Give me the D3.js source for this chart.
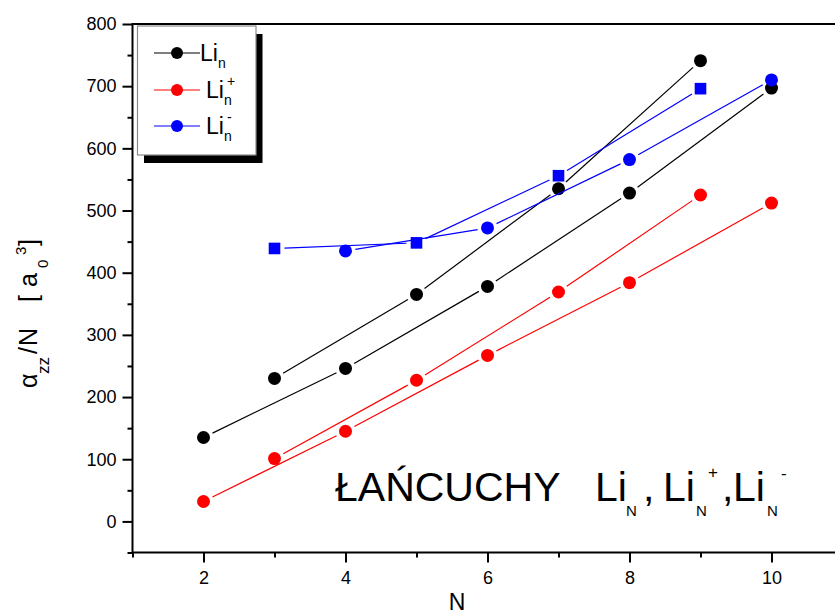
<!DOCTYPE html>
<html>
<head>
<meta charset="utf-8">
<script src="https://cdn.jsdelivr.net/npm/d3@7"></script>
<style>
  html, body { margin: 0; padding: 0; background: #fff; overflow: hidden; }
  svg { display: block; font-family: "Liberation Sans", Arial, sans-serif; }
</style>
</head>
<body>
<svg id="chart" width="835" height="615"></svg>
<script>
// ---- data ----
const nEven = [2, 4, 6, 8, 10];
const nOdd = [3, 5, 7, 9];
const nEvenMinus = [4, 6, 8, 10];
const liEven = [135, 246, 378, 528, 697];
const liOdd = [230, 365, 535, 741];
const liPlusEven = [32, 145, 267, 384, 512];
const liPlusOdd = [101, 227, 369, 525];
const liMinusEven = [435, 472, 582, 710];
const liMinusOdd = [439, 448, 556, 696];
const xMajorTicks = [2, 4, 6, 8, 10];
const xMinorTicks = [1, 3, 5, 7, 9, 11];
const yMajorTicks = [0, 100, 200, 300, 400, 500, 600, 700, 800];
const yMinorTicks = [-50, 50, 150, 250, 350, 450, 550, 650, 750];

const svg = d3.select("#chart");
const x = d3.scaleLinear().domain([1, 11]).range([132.5, 842.5]);
const y = d3.scaleLinear().domain([-50, 800]).range([552.5, 24]);

// ---- axes ----
const gx = svg.append("g").attr("transform", `translate(0,${y(-50)})`);
gx.call(d3.axisBottom(x).tickValues(xMajorTicks).tickSize(10).tickSizeOuter(0).tickPadding(9).tickFormat(d3.format("d")));
gx.append("g").call(d3.axisBottom(x).tickValues(xMinorTicks).tickSize(5).tickSizeOuter(0).tickFormat(""));
gx.selectAll(".domain").remove();
gx.selectAll("line").attr("stroke", "#000").attr("stroke-width", 2);
gx.selectAll("text").attr("font-size", 18).attr("fill", "#000").attr("font-family", "Liberation Sans, Arial, sans-serif");

const gy = svg.append("g").attr("transform", `translate(${x(1)},0)`);
gy.call(d3.axisLeft(y).tickValues(yMajorTicks).tickSize(10).tickSizeOuter(0).tickPadding(6).tickFormat(d3.format("d")));
gy.append("g").call(d3.axisLeft(y).tickValues(yMinorTicks).tickSize(5).tickSizeOuter(0).tickFormat(""));
gy.selectAll(".domain").remove();
gy.selectAll("line").attr("stroke", "#000").attr("stroke-width", 2);
gy.selectAll("text").attr("font-size", 18).attr("fill", "#000").attr("font-family", "Liberation Sans, Arial, sans-serif");

// frame lines
svg.append("line").attr("x1", x(1)).attr("x2", 835).attr("y1", y(-50)).attr("y2", y(-50)).attr("stroke", "#000").attr("stroke-width", 2);
svg.append("line").attr("x1", x(1)).attr("x2", 835).attr("y1", y(800)).attr("y2", y(800)).attr("stroke", "#000").attr("stroke-width", 2);
svg.append("line").attr("x1", x(1)).attr("x2", x(1)).attr("y1", y(800) - 1).attr("y2", y(-50) + 1).attr("stroke", "#000").attr("stroke-width", 2);

// ---- series ----
const gap = 10;
function drawSeries(xs, ys, color, shape) {
  const pts = xs.map((d, i) => [x(d), y(ys[i])]);
  for (let i = 0; i < pts.length - 1; i++) {
    const [x1, y1] = pts[i], [x2, y2] = pts[i + 1];
    const len = Math.hypot(x2 - x1, y2 - y1);
    const ux = (x2 - x1) / len, uy = (y2 - y1) / len;
    svg.append("line")
      .attr("x1", x1 + ux * gap).attr("y1", y1 + uy * gap)
      .attr("x2", x2 - ux * gap).attr("y2", y2 - uy * gap)
      .attr("stroke", color).attr("stroke-width", 1.2);
  }
  if (shape === "square") {
    svg.append("g").selectAll("rect").data(pts).join("rect")
      .attr("x", d => d[0] - 5.8).attr("y", d => d[1] - 5.8)
      .attr("width", 11.6).attr("height", 11.6).attr("fill", color);
  } else {
    svg.append("g").selectAll("circle").data(pts).join("circle")
      .attr("cx", d => d[0]).attr("cy", d => d[1]).attr("r", 6.5).attr("fill", color);
  }
}
drawSeries(nEven, liEven, "#000000", "circle");
drawSeries(nOdd, liOdd, "#000000", "circle");
drawSeries(nEven, liPlusEven, "#ff0000", "circle");
drawSeries(nOdd, liPlusOdd, "#ff0000", "circle");
drawSeries(nEvenMinus, liMinusEven, "#0000ff", "circle");
drawSeries(nOdd, liMinusOdd, "#0000ff", "square");

// ---- legend ----
const lg = svg.append("g");
lg.append("rect").attr("x", 144).attr("y", 34).attr("width", 118.5).attr("height", 129).attr("fill", "#000");
lg.append("rect").attr("x", 137.5).attr("y", 26).attr("width", 118.5).attr("height", 129)
  .attr("fill", "#fff").attr("stroke", "#8a8a8a").attr("stroke-width", 1.2);
const legendItems = [
  { color: "#000000", sup: "", cy: 53, tx: 200 },
  { color: "#ff0000", sup: "+", cy: 90, tx: 206 },
  { color: "#0000ff", sup: "-", cy: 126, tx: 206 }
];
legendItems.forEach(it => {
  lg.append("line").attr("x1", 154).attr("x2", 200).attr("y1", it.cy).attr("y2", it.cy)
    .attr("stroke", it.color).attr("stroke-width", 1.2);
  lg.append("circle").attr("cx", 177).attr("cy", it.cy).attr("r", 6).attr("fill", it.color);
  const t = lg.append("text").attr("x", it.tx).attr("y", it.cy + 8).attr("font-size", 23).attr("fill", "#000");
  t.append("tspan").text("Li");
  t.append("tspan").attr("x", it.tx + 18).attr("y", it.cy + 15).attr("font-size", 14).text("n");
  if (it.sup) t.append("tspan").attr("x", it.tx + 21).attr("y", it.cy - 4).attr("font-size", 14).text(it.sup);
});

// ---- annotation ----
const ann = svg.append("text").attr("font-size", 41).attr("fill", "#000");
const annParts = [
  { t: "ŁAŃCUCHY", x: 335, y: 501, s: 41 },
  { t: "Li", x: 595, y: 501, s: 41 },
  { t: "N", x: 626, y: 516, s: 15 },
  { t: ",", x: 643, y: 501, s: 41 },
  { t: "Li", x: 663, y: 501, s: 41 },
  { t: "N", x: 696, y: 516, s: 15 },
  { t: "+", x: 708, y: 478, s: 17 },
  { t: ",", x: 722, y: 501, s: 41 },
  { t: "Li", x: 733, y: 501, s: 41 },
  { t: "N", x: 767, y: 516, s: 15 },
  { t: "-", x: 781, y: 479, s: 17 }
];
annParts.forEach(p => ann.append("tspan").attr("x", p.x).attr("y", p.y).attr("font-size", p.s).text(p.t));

// ---- axis titles ----
svg.append("text").attr("x", 457).attr("y", 610).attr("text-anchor", "middle")
  .attr("font-size", 23).attr("fill", "#000").text("N");

const yl = svg.append("text").attr("transform", "translate(37,388) rotate(-90)").attr("fill", "#000");
const ylParts = [
  { t: "α", x: 0, y: 0, s: 25 },
  { t: "zz", x: 14, y: 12, s: 17 },
  { t: "/", x: 34, y: 0, s: 25 },
  { t: "N", x: 42, y: 0, s: 25 },
  { t: "[", x: 86, y: 0, s: 25 },
  { t: "a", x: 101, y: 0, s: 25 },
  { t: "0", x: 120, y: 11, s: 15 },
  { t: "3", x: 133, y: -11, s: 15 },
  { t: "]", x: 142, y: 0, s: 25 }
];
ylParts.forEach(p => yl.append("tspan").attr("x", p.x).attr("y", p.y).attr("font-size", p.s).text(p.t));
</script>
</body>
</html>
